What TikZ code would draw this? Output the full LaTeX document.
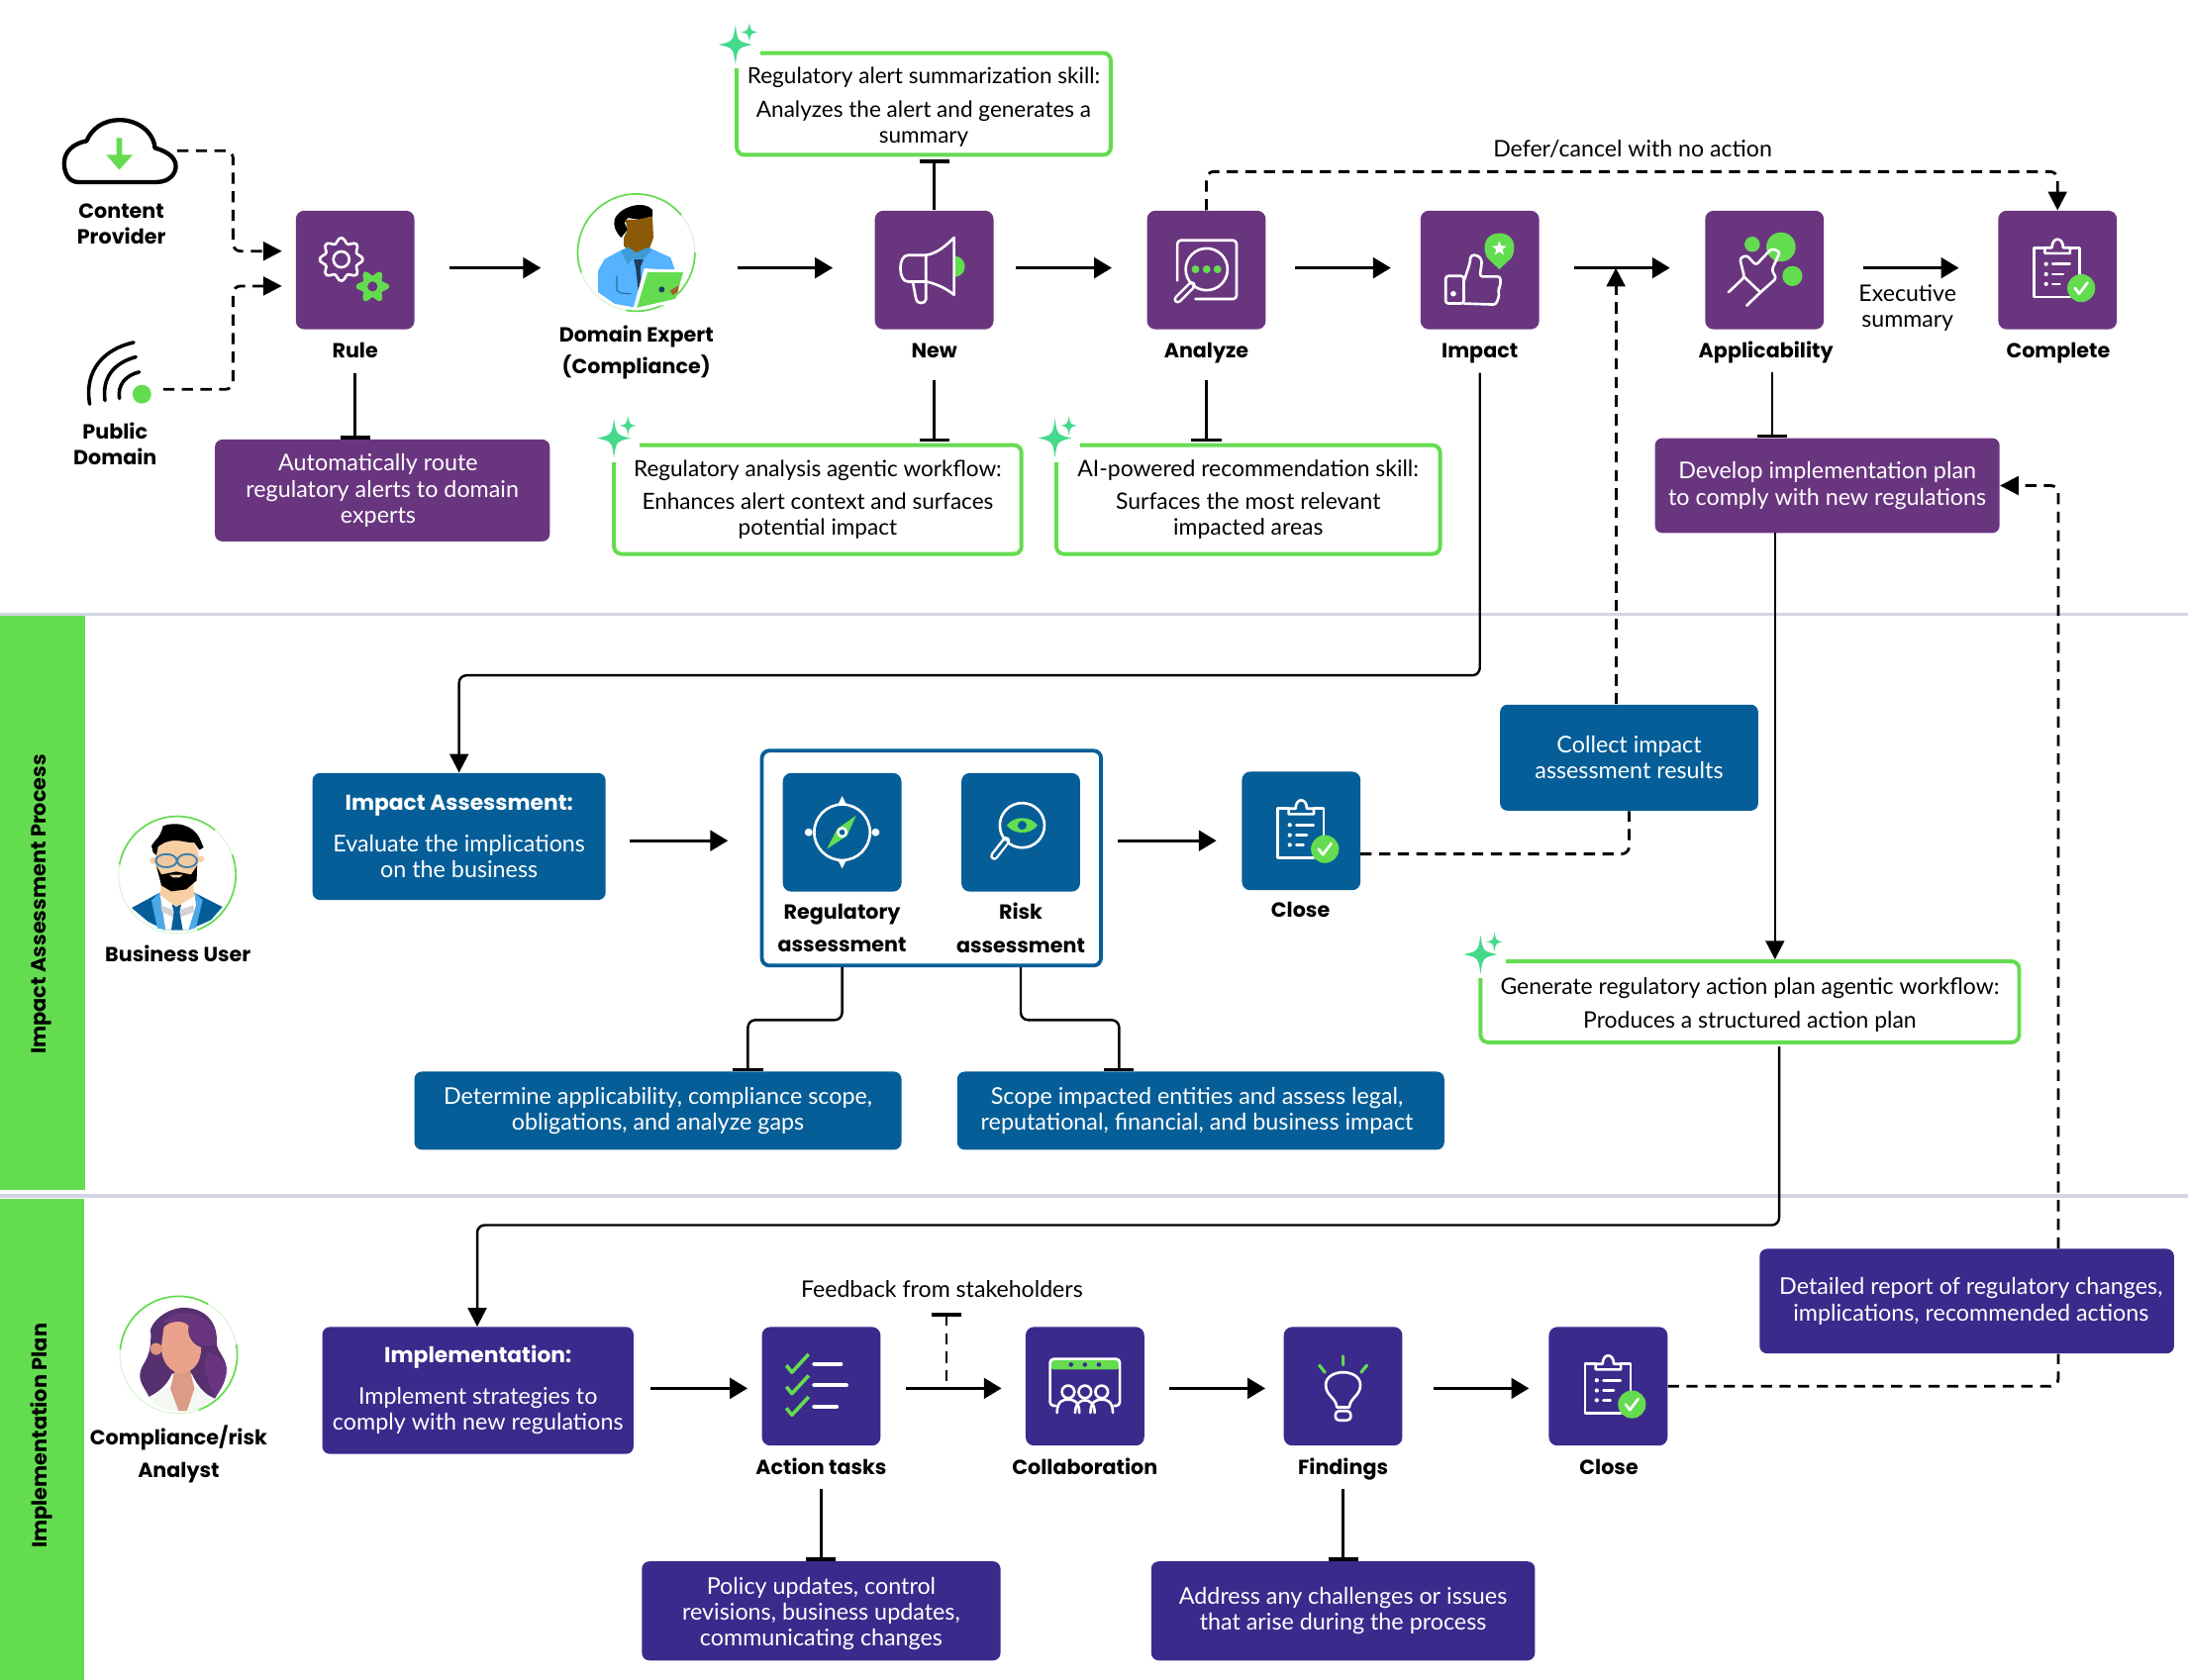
\documentclass[tikz,border=0pt]{standalone}
\usepackage{fontspec}
\setmainfont{Lato}
\newfontfamily\labfont{Poppins}
\usetikzlibrary{arrows.meta}
\definecolor{plum}{HTML}{6A357F}
\definecolor{seablue}{HTML}{055E98}
\definecolor{indigoo}{HTML}{3C298C}
\definecolor{lime}{HTML}{64DC50}
\definecolor{sepline}{HTML}{D3D6E2}
\definecolor{spark}{HTML}{45D98C}
\definecolor{shirtb}{HTML}{55B3FF}
\definecolor{skinb}{HTML}{8B5A08}
\definecolor{collarb}{HTML}{3D9BD6}
\definecolor{tiedk}{HTML}{1C3F5E}
\definecolor{pocketb}{HTML}{2E6FA3}
\definecolor{thumbb}{HTML}{A0622A}
\definecolor{lapelc}{HTML}{4CA9E6}
\definecolor{greyc}{HTML}{D2D2D2}
\definecolor{skina}{HTML}{F7CFA3}
\definecolor{lensrim}{HTML}{3F7FAB}
\definecolor{lensin}{HTML}{EFC9A0}
\definecolor{blouse}{HTML}{F5F7F4}
\definecolor{hairdk}{HTML}{57306F}
\definecolor{neckc}{HTML}{DB9B87}
\definecolor{facec}{HTML}{EBA28C}
\definecolor{earc}{HTML}{DD9580}
\tikzset{
  wh/.style 2 args={minimum width=#1*0.75pt,minimum height=#2*0.75pt},
  gap/.style 2 args={shorten <=#1*0.75pt,shorten >=#2*0.75pt}
}
\newcommand{\sparkle}[1]{
\begin{scope}[shift={(#1)}]
\fill [white] (-2,-2) rectangle (18,10);
\fill [white] (-4,0) rectangle (4,17);
\fill [spark] (0,-14) .. controls (1.6,-2.4) .. (12,0) .. controls (1.6,2.4) .. (0,14) .. controls (-1.6,2.4) .. (-12,0) .. controls (-1.6,-2.4) .. (0,-14);
\fill [spark] (10,-16) .. controls (11,-10) .. (16,-9) .. controls (11,-8) .. (10,-2) .. controls (9,-8) .. (4,-9) .. controls (9,-10) .. (10,-16);
\end{scope}
}
\newcommand{\clipicon}[1]{
\begin{scope}[shift={(#1)}]
\draw [ln] (-9,-16) -- (-16.7,-16) -- (-16.7,19.4) -- (9,19.4);
\draw [ln] (9,-16) -- (16,-16) -- (16,6);
\draw [ln] (-9,-12) -- (-9,-16) -- (-4,-16) .. controls (-4,-24) and (4,-24) .. (4,-16) -- (9,-16) -- (9,-12) -- cycle;
\fill [white] (-8.2,-4.3) circle (1.5) (-8.2,3) circle (1.5) (-8.2,10) circle (1.5);
\draw [ln] (-3.5,-4.3) -- (8.8,-4.3) (-3.5,3) -- (4,3) (-3.5,10) -- (1.6,10);
\fill [lime] (17,13) circle (10);
\draw [ln] (12.5,13) -- (15.5,17) -- (21.5,9);
\end{scope}
}
\begin{document}
\begin{tikzpicture}[x=0.75pt,y=-0.75pt]
\tikzstyle{every node}+=[inner sep=0pt]
\tikzstyle{sq}=[rectangle,rounded corners=4.5pt,wh={85}{85}]
\tikzstyle{lab}=[font=\labfont\bfseries\fontsize{11}{14.25}\selectfont,align=center,text=black]
\tikzstyle{labone}=[lab,anchor=base]
\tikzstyle{txt}=[font=\fontsize{12.3}{13.9}\selectfont,align=center,text=black]
\tikzstyle{box}=[rectangle,rounded corners=4pt,align=center,text=white,font=\fontsize{12.4}{14}\selectfont]
\tikzstyle{skill}=[rectangle,rounded corners=4pt,align=center,draw=lime,line width=2.1pt,fill=white,font=\fontsize{12.2}{13.9}\selectfont]
\tikzstyle{flow}=[black,line width=1.6pt,-{Triangle[length=9.5pt,width=11pt]}]
\tikzstyle{link}=[black,line width=1.3pt,rounded corners=4pt,-{Triangle[length=10pt,width=10pt]}]
\tikzstyle{tee}=[black,line width=1.3pt,rounded corners=4pt,-{Bar[width=16pt,line width=1.9pt]}]
\tikzstyle{dashline}=[black,line width=1.5pt,rounded corners=4pt,dash pattern=on 6pt off 4pt,-{Triangle[length=10pt,width=10pt]}]
\tikzstyle{ln}=[white,line width=1.4pt,line cap=round,line join=round]
\tikzstyle{ring}=[lime,line width=0.9pt]
\useasboundingbox (0,0) rectangle (1568,1204);
\fill [white] (0,0) rectangle (1568,1204);
\fill [lime] (0,441) rectangle (61,853);
\fill [lime] (0,859) rectangle (60,1204);
\fill [sepline] (0,439) rectangle (1568,441.5);
\fill [sepline] (0,855.5) rectangle (1568,858.5);
\draw (30,648) node [rotate=90,font=\labfont\bfseries\fontsize{11.1}{12}\selectfont] (bandimpact) {Impact Assessment Process};
\draw (30,1029) node [rotate=90,font=\labfont\bfseries\fontsize{11.1}{12}\selectfont] (bandplan) {Implementation Plan};
\coordinate (rowa) at (0,192);
\coordinate (rowb) at (0,602.5);
\coordinate (rowc) at (0,995);
\draw (254.5,193.5) node [sq,fill=plum] (rule) {};
\draw (669.5,193.5) node [sq,fill=plum] (new) {};
\draw (864.5,193.5) node [sq,fill=plum] (analyze) {};
\draw (1060.5,193.5) node [sq,fill=plum] (impact) {};
\draw (1264.5,193.5) node [sq,fill=plum] (appl) {};
\draw (1474.5,193.5) node [sq,fill=plum] (complete) {};
\draw (254.5,256.5) node [labone] (rulelab) {Rule};
\draw (669.5,256.5) node [labone] (newlab) {New};
\draw (864.5,256.5) node [labone] (analyzelab) {Analyze};
\draw (1060.5,256.5) node [labone] (impactlab) {Impact};
\draw (1265.5,256.5) node [labone] (appllab) {Applicability};
\draw (1475,256.5) node [labone] (completelab) {Complete};
\draw (87,160.5) node [lab] (contentlab) {Content\\Provider};
\draw (82.5,318) node [lab] (publiclab) {Public\\Domain};
\draw (456,252.5) node [lab] (domainlab) {Domain Expert\\[3pt](Compliance)};
\draw (456,181) node [circle,minimum size=63pt,draw=lime!25,line width=0.6pt] (domain) {};
\draw (274,351.5) node [box,fill=plum,wh={240}{73}] (rulebox) {Automatically route\hspace*{4.5pt}\\regulatory alerts to domain\hspace*{4.5pt}\\experts\hspace*{4.5pt}};
\draw (662,74.5) node [skill,wh={268}{73},font=\fontsize{12}{13.9}\selectfont] (sumskill) {\rule{0pt}{12pt}Regulatory alert summarization skill:\\[4pt]Analyzes the alert and generates a\\summary};
\draw (586,358) node [skill,wh={292}{78},font=\fontsize{12}{13.9}\selectfont] (workflow) {Regulatory analysis agentic workflow:\\[4pt]Enhances alert context and surfaces\\potential impact};
\draw (894.5,358) node [skill,wh={275}{78}] (recoskill) {AI-powered recommendation skill:\\[4pt]Surfaces the most relevant\\impacted areas};
\draw (1309.5,348) node [box,fill=plum,wh={247}{68}] (devbox) {Develop implementation plan\\to comply with new regulations};
\draw (1254,718) node [skill,wh={386}{58}] (genbox) {\rule{0pt}{12pt}Generate regulatory action plan agentic workflow:\\[4pt]Produces a structured action plan};
\draw (329,599.5) node [box,fill=seablue,wh={210}{91}] (iabox) {{\labfont\bfseries\fontsize{11.6}{14}\selectfont Impact Assessment:}\\[8.5pt]Evaluate the implications\\on the business};
\draw (667.5,615) node [rectangle,rounded corners=4pt,draw=seablue,line width=2pt,wh={243}{154}] (frame) {};
\draw (603.5,596.5) node [sq,fill=seablue] (regsq) {};
\draw (731.5,596.5) node [sq,fill=seablue] (risksq) {};
\draw (603.5,665) node [lab] (reglab) {Regulatory\\[3.5pt]assessment};
\draw (731.5,665) node [lab] (risklab) {Risk\\[3.5pt]assessment};
\draw (932.5,595.5) node [sq,fill=seablue] (iaclose) {};
\draw (932,657.5) node [labone] (iacloselab) {Close};
\draw (1167.5,543) node [box,fill=seablue,wh={185}{76}] (collect) {Collect impact\\assessment results};
\draw (471.5,796) node [box,fill=seablue,wh={349}{56}] (detbox) {Determine applicability, compliance scope,\\obligations, and analyze gaps};
\draw (860.5,796) node [box,fill=seablue,wh={349}{56}] (scopebox) {Scope impacted entities and assess legal,\hspace*{4pt}\\reputational, financial, and business impact\hspace*{4pt}};
\draw (127,627) node [circle,minimum size=63pt,draw=lime!25,line width=0.6pt] (bizuser) {};
\draw (127.5,689) node [labone] (bizlab) {Business User};
\draw (128,971) node [circle,minimum size=63pt,draw=lime!25,line width=0.6pt] (analyst) {};
\draw (128,1042) node [lab] (analystlab) {Compliance/risk\\[3.5pt]Analyst};
\draw (342.5,996.5) node [box,fill=indigoo,wh={223}{91}] (implbox) {{\labfont\bfseries\fontsize{11.6}{14}\selectfont Implementation:}\\[8.5pt]Implement strategies to\\comply with new regulations\rule[-3pt]{0pt}{3pt}};
\draw (588.5,993.5) node [sq,fill=indigoo] (action) {};
\draw (777.5,993.5) node [sq,fill=indigoo] (collab) {};
\draw (962.5,993.5) node [sq,fill=indigoo] (findings) {};
\draw (1152.5,993.5) node [sq,fill=indigoo] (plclose) {};
\draw (588.5,1056.5) node [labone] (actionlab) {Action tasks};
\draw (777.5,1056.5) node [labone] (collablab) {Collaboration};
\draw (962.5,1056.5) node [labone] (findingslab) {Findings};
\draw (1153,1056.5) node [labone] (plcloselab) {Close};
\draw (588.5,1154.5) node [box,fill=indigoo,wh={257}{71}] (policy) {\rule{0pt}{12pt}Policy updates, control\\revisions, business updates,\\communicating changes};
\draw (962.5,1154.5) node [box,fill=indigoo,wh={275}{71}] (address) {Address any challenges or issues\\that arise during the process};
\draw (1409.5,932.5) node [box,fill=indigoo,wh={297}{75}] (detail) {\hspace*{4.5pt}Detailed report of regulatory changes,\\\hspace*{4.5pt}implications, recommended actions};
\draw (1170,107) node [txt] (defer) {Defer/cancel with no action};
\draw (1367,220.5) node [txt] (execsum) {Executive\\summary};
\draw (675,924) node [txt] (feedback) {Feedback from stakeholders};
\coordinate (cloudout) at (127,108);
\coordinate (wifiout) at (117,279);
\coordinate (busa) at (167,180);
\coordinate (busb) at (167,205);
\coordinate (ruleina) at (202,180);
\coordinate (ruleinb) at (202,205);
\coordinate (deferturn) at (1170,123);
\coordinate (applout) at (1270,236);
\coordinate (devout) at (1272,382);
\coordinate (genout) at (1275,748);
\coordinate (implturn) at (342,878);
\coordinate (iaturn) at (329,484);
\coordinate (collin) at (1158,192);
\coordinate (closeout) at (975,612);
\coordinate (deta) at (536,731);
\coordinate (scopea) at (802,731);
\coordinate (rightbus) at (1475,349);
\coordinate (fbtop) at (678,941);
\coordinate (fbbot) at (678,990);
\draw [dashline] (cloudout) -| (busa) -- (ruleina);
\draw [dashline] (wifiout) -| (busb) -- (ruleinb);
\draw [flow,gap={25}{26}] (rule.east |- rowa) -- (domain.west |- rowa);
\draw [flow,gap={30}{30}] (domain.east |- rowa) -- (new.west |- rowa);
\draw [flow,gap={16}{25}] (new.east |- rowa) -- (analyze.west |- rowa);
\draw [flow,gap={21}{21}] (analyze.east |- rowa) -- (impact.west |- rowa);
\draw [flow,gap={25}{25}] (impact.east |- rowa) -- (appl.west |- rowa);
\draw [flow,gap={28}{28}] (appl.east |- rowa) -- (complete.west |- rowa);
\draw [flow,gap={17}{23}] (iabox.east |- rowb) -- (frame.west |- rowb);
\draw [flow,gap={11}{18}] (frame.east |- rowb) -- (iaclose.west |- rowb);
\draw [flow,gap={12}{10}] (implbox.east |- rowc) -- (action.west |- rowc);
\draw [flow,gap={18}{17}] (action.east |- rowc) -- (collab.west |- rowc);
\draw [flow,gap={18}{13}] (collab.east |- rowc) -- (findings.west |- rowc);
\draw [flow,gap={22}{14}] (findings.east |- rowc) -- (plclose.west |- rowc);
\draw [tee,gap={31}{0}] (rule.south) -- (rule.south |- rulebox.north);
\draw [tee,gap={0}{2}] (new.north) -- (new.north |- sumskill.south);
\draw [tee,gap={36}{1}] (new.south) -- (new.south |- workflow.north);
\draw [tee,gap={36}{1}] (analyze.south) -- (analyze.south |- recoskill.north);
\draw [tee,gap={31}{0}] (applout) -- (applout |- devbox.north);
\draw [tee,gap={31}{0}] (action.south) -- (action.south |- policy.north);
\draw [tee,gap={31}{0}] (findings.south) -- (findings.south |- address.north);
\draw [tee] (regsq.south |- frame.south) |- (deta) -- (deta |- detbox.north);
\draw [tee] (risksq.south |- frame.south) |- (scopea) -- (scopea |- scopebox.north);
\draw [link,gap={31}{0}] (impact.south) |- (iaturn) -- (iaturn |- iabox.north);
\draw [link] (devout) -- (devout |- genbox.north);
\draw [link,gap={2}{0}] (genout) |- (implturn) -- (implturn |- implbox.north);
\draw [dashline] (analyze.north) |- (deferturn) -| (complete.north);
\draw [dashline] (collin |- collect.north) -- (collin);
\draw [dashline,-] (closeout) -| (collect.south);
\draw [dashline,-] (plclose.east) -| (rightbus |- detail.south);
\draw [dashline] (rightbus |- detail.north) |- (devbox.east);
\draw [black,line width=1.1pt,dash pattern=on 6pt off 4pt,-{Bar[width=16pt,line width=1.9pt]}] (fbbot) -- (fbtop);
\sparkle{527,32}
\sparkle{440,314}
\sparkle{756,314}
\sparkle{1061,684}
\draw [black,line width=2.3pt,line join=round] (56,130.5) -- (112,130.5) .. controls (122,130.5) and (126,124) .. (126,119) .. controls (126,112) and (118,108) .. (111,106) .. controls (110,94) and (98,86) .. (86,86) .. controls (74,86) and (66,92) .. (62,101) .. controls (52,103) and (46,109) .. (46,117) .. controls (46,125) and (50,130.5) .. (56,130.5) -- cycle;
\fill [lime] (83.5,98.8) -- (87.5,98.8) -- (87.5,111) -- (95.1,111) -- (85.5,121.7) -- (76.2,111) -- (83.5,111) -- cycle;
\draw [black,line width=1.9pt,line cap=round] (64.3,289.6) .. controls (60,265) and (75,250) .. (95.8,245.4);
\draw [black,line width=1.9pt,line cap=round] (75.2,287) .. controls (73,270) and (82,260) .. (97.4,255.8);
\draw [black,line width=1.9pt,line cap=round] (85.6,285.6) .. controls (84,276) and (90,269) .. (99.8,266.6);
\fill [lime] (101.7,282.5) circle (6.7);
\begin{scope}[shift={(rule.center)}]
\draw [ln] [shift={(-9.9,-7.6)}] plot [smooth cycle,samples=49,domain=0:352.5] (\x:{13.6+1.9*cos(8*\x)});
\draw [ln] (-9.9,-7.6) circle (5.7);
\fill [lime,even odd rule] [shift={(12.5,11.8)}] plot [smooth cycle,samples=33,domain=0:348.75] (\x:{9.8+2.2*cos(6*\x)}) (0,0) circle (3.7);
\end{scope}
\begin{scope}[shift={(new.center)}]
\fill [lime] (14.5,-10) arc (-90:90:7.5) -- cycle;
\draw [ln] (-5.9,-10.6) .. controls (2,-12) and (8,-17) .. (14.2,-23.2) -- (14.2,17.7) .. controls (8,13) and (2,10) .. (-5.9,8.3) -- cycle;
\draw [ln] (-5.9,-10.6) -- (-18.9,-10.6) .. controls (-26,-10.6) and (-26,8.3) .. (-18.9,8.3) -- (-5.9,8.3);
\draw [ln] (-15.4,8.3) -- (-13,21) .. controls (-12.5,24.5) and (-6,24.5) .. (-5.9,21) -- (-5.9,8.3);
\end{scope}
\begin{scope}[shift={(analyze.center)}]
\draw [ln,rounded corners=2pt] (-20.8,7.6) -- (-20.8,-21.3) -- (21.7,-21.3) -- (21.7,20.8) -- (-7.8,20.8);
\fill [plum] (0.2,-0.5) circle (15);
\draw [ln] (0.2,-0.5) circle (15);
\draw [white,line width=4.4pt,line cap=round] (-10.5,11) -- (-20.5,21);
\draw [plum,line width=1.8pt,line cap=round] (-11,11.5) -- (-20.5,21);
\fill [lime] (-7.8,-0.5) circle (2.8) (0.2,-0.5) circle (2.8) (8,-0.5) circle (2.8);
\end{scope}
\begin{scope}[shift={(impact.center)}]
\draw [ln,rounded corners=1.5pt] (-11.5,4.3) -- (-24.5,4.3) -- (-24.5,24) -- (-11.5,24) -- cycle;
\draw [ln,rounded corners=1.5pt] (-11.5,8.3) -- (-7.2,-4.7) -- (-6.5,-10.6) -- (-1.6,-10.6) -- (1.6,-7) -- (0,4.7) -- (14.7,4.7) -- (14.7,11.8) -- (13,14) -- (14,18) -- (11.5,24.8) -- (-11.5,24);
\fill [white] (-19,17) circle (2);
\fill [lime] (14,-0.5) -- (5,-9) .. controls (0,-22) and (8,-26.4) .. (14,-26.4) .. controls (20,-26.4) and (28,-22) .. (23,-9) -- cycle;
\end{scope}
\begin{scope}[shift={(impact.center)},shift={(14,-15.4)}]
\fill [white] (0,-5.5) -- (1.35,-1.9) -- (5.2,-1.7) -- (2.2,0.7) -- (3.2,4.4) -- (0,2.3) -- (-3.2,4.4) -- (-2.2,0.7) -- (-5.2,-1.7) -- (-1.35,-1.9) -- cycle;
\end{scope}
\begin{scope}[shift={(appl.center)}]
\fill [lime] (11.8,-16.5) circle (10.5) (-8.8,-18.4) circle (5.5) (20,4.3) circle (7.2);
\draw [ln,rounded corners=1.5pt] (-25.9,16) -- (-14.4,5.2) -- (-17.7,-8.3) -- (-12.8,-10.6) -- (-6.2,-3.5) -- (5.2,-15.4) -- (11.1,-13) -- (5.2,0) -- (8.5,5.9) -- (-2.9,16) -- (-12.8,25.5);
\draw [ln] (-14.4,5.2) -- (-2.9,16);
\end{scope}
\clipicon{complete.center}
\clipicon{iaclose.center}
\clipicon{plclose.center}
\begin{scope}[shift={(regsq.center)}]
\draw [ln] (0,0) circle (20);
\fill [white] (0,-26) -- (3,-20) -- (-3,-20) -- cycle (0,26) -- (3,20) -- (-3,20) -- cycle (-24,0) circle (2.8) (24,0) circle (2.8);
\fill [lime] (10,-12) -- (3.5,2.5) -- (-11,12) -- (-3.5,-2.5) -- cycle;
\fill [white] (0,0) circle (4);
\fill [seablue] (0,0) circle (2);
\end{scope}
\begin{scope}[shift={(risksq.center)}]
\draw [ln] (1,-5) circle (16);
\fill [lime] (-10,-5) .. controls (-5,-12) and (7,-12) .. (12,-5) .. controls (7,2) and (-5,2) .. (-10,-5);
\fill [seablue] (1,-5) circle (3.2);
\draw [white,line width=4.4pt,line cap=round] (-10.5,6) -- (-19,17);
\draw [seablue,line width=1.8pt,line cap=round] (-11,7) -- (-19,17);
\end{scope}
\begin{scope}[shift={(action.center)}]
\foreach \yy in {-16,-0.7,14.6} {
\draw [lime,line width=1.9pt,line join=round] (-25,{\yy+1}) -- (-21,{\yy+6}) -- (-9,{\yy-7});
}
\draw [white,line width=2.3pt,line cap=round] (-5,-16) -- (14,-16) (-5,-0.7) -- (18,-0.7) (-5,14.6) -- (11,14.6);
\end{scope}
\begin{scope}[shift={(collab.center)}]
\fill [lime,rounded corners=2pt] (-25,-12) -- (-25,-19.6) -- (25,-19.6) -- (25,-12) -- cycle;
\fill [indigoo] (-10,-15.5) circle (1.6) (0,-15.5) circle (1.6) (10,-15.5) circle (1.6);
\draw [ln,rounded corners=2pt] (-21,14) -- (-25,14) -- (-25,-19.6) -- (25,-19.6) -- (25,14) -- (21,14);
\draw [ln,fill=indigoo] (-12,4) circle (4.5) (12,4) circle (4.5);
\draw [ln] (-20,19) .. controls (-20,10) and (-15,9.5) .. (-12,9.5) .. controls (-9,9.5) and (-4,10) .. (-4,19);
\draw [ln] (20,19) .. controls (20,10) and (15,9.5) .. (12,9.5) .. controls (9,9.5) and (4,10) .. (4,19);
\draw [ln,fill=indigoo] (0,4) circle (4.5);
\draw [ln] (-7,19) .. controls (-7,12) and (-3,10) .. (0,10) .. controls (3,10) and (7,12) .. (7,19);
\end{scope}
\begin{scope}[shift={(findings.center)}]
\draw [ln] (-4.5,15) .. controls (-5,8) and (-12.4,7) .. (-12.4,-1) .. controls (-12.4,-7) and (-6,-10) .. (0,-10) .. controls (6,-10) and (12.4,-7) .. (12.4,-1) .. controls (12.4,7) and (5,8) .. (4.5,15) -- cycle;
\draw [ln,rounded corners=2pt] (-5.5,17.7) rectangle (5.5,24.4);
\draw [lime,line width=1.7pt,line cap=round] (0,-21.5) -- (0,-15.4) (-17,-15) -- (-13,-10) (17,-15) -- (13,-10);
\end{scope}
\begin{scope}[shift={(domain.center)}]
\draw [ring] (-40:42) arc [start angle=-40,end angle=-200,radius=42];
\draw [ring] (100:42) arc [start angle=100,end angle=0,radius=42];
\end{scope}
\begin{scope}[shift={(domain.center)},scale=0.2364,shift={(-216,-195)}]
\fill [black] (150,95) .. controls (165,55) and (240,35) .. (265,65) -- (265,85) -- (225,95) -- (190,90) -- (180,105) -- (190,125) -- (170,150) .. controls (155,135) and (145,115) .. (150,95);
\fill [shirtb] (100,250) -- (120,215) -- (175,185) -- (265,185) -- (320,210) -- (332,245) -- (245,250) -- (215,362) -- (150,350) -- (100,315) -- cycle;
\fill [skinb] (182,95) -- (225,95) -- (265,85) -- (268,150) -- (255,185) -- (240,195) -- (205,200) -- (178,175) -- (178,150) -- (190,125) -- cycle;
\fill [collarb] (170,190) -- (190,178) -- (215,195) -- (250,180) -- (265,185) -- (240,212) -- (205,212) -- (190,232) -- cycle;
\fill [tiedk] (208,215) -- (238,215) -- (228,240) -- (232,290) -- (222,312) -- (214,240) -- cycle;
\draw [pocketb,line width=0.6pt] (157,265) -- (157,310) -- (170,318) -- (200,320);
\fill [white] (240,243) -- (362,250) -- (330,348) -- (205,370) -- cycle;
\fill [lime] (250,255) -- (358,255) -- (335,335) -- (218,362) -- cycle;
\fill [tiedk] (293,307) circle (9);
\fill [thumbb] (318,310) -- (345,295) -- (342,315) -- (326,324) -- cycle;
\end{scope}
\begin{scope}[shift={(bizuser.center)}]
\draw [ring] (-50:42) arc [start angle=-50,end angle=-170,radius=42];
\draw [ring] (70:42) arc [start angle=70,end angle=-20,radius=42];
\end{scope}
\begin{scope}[shift={(bizuser.center)},scale=0.2364,shift={(-238,-208)}]
\fill [seablue] (100,308) -- (185,262) -- (290,262) -- (375,305) -- (340,345) -- (272,375) -- (200,375) -- (150,350) -- cycle;
\fill [lapelc] (160,285) -- (185,262) -- (205,375) -- (178,370) -- cycle (315,285) -- (292,262) -- (272,375) -- (295,368) -- cycle;
\fill [white] (185,262) -- (290,262) -- (295,300) -- (272,375) -- (203,375) -- cycle;
\fill [greyc] (188,300) -- (235,318) -- (287,300) -- (290,320) -- (252,335) -- (222,335) -- (192,320) -- cycle;
\fill [seablue] (222,298) -- (250,298) -- (245,320) -- (255,375) -- (220,375) -- (228,320) -- cycle;
\fill [skina] (190,220) -- (285,220) -- (290,272) -- (235,305) -- (187,270) -- cycle;
\fill [skina] (237,160) ellipse [x radius=66,y radius=85];
\fill [skina] (165,165) circle (10) (310,160) circle (10);
\fill [black] (175,180) -- (190,207) -- (235,198) -- (280,207) -- (298,180) -- (297,225) -- (265,252) -- (220,258) -- (190,240) -- cycle;
\fill [skina] (215,208) -- (255,208) -- (245,216) -- (225,216) -- cycle;
\fill [black] (160,120) .. controls (170,100) and (185,100) .. (195,60) .. controls (230,45) and (285,55) .. (305,95) -- (318,125) -- (305,132) -- (290,110) .. controls (260,112) and (240,95) .. (200,110) -- (180,122) -- (175,148) -- (165,140) -- cycle;
\draw [lensrim,line width=1pt,fill=lensin] (205,165) ellipse [x radius=32,y radius=20];
\draw [lensrim,line width=1pt,fill=lensin] (268,165) ellipse [x radius=30,y radius=20];
\end{scope}
\begin{scope}[shift={(analyst.center)}]
\draw [ring] (-60:42) arc [start angle=-60,end angle=-175,radius=42];
\draw [ring] (70:42) arc [start angle=70,end angle=-10,radius=42];
\end{scope}
\begin{scope}[shift={(analyst.center)},scale=0.2364,shift={(-240,-208)}]
\fill [blouse] (215,305) -- (145,340) -- (190,370) -- (240,380) -- (290,380) -- (340,345) -- (288,300) -- cycle;
\fill [hairdk] (155,130) .. controls (170,90) and (220,65) .. (255,65) .. controls (320,65) and (360,110) .. (355,170) .. controls (355,200) and (390,220) .. (385,260) .. controls (380,300) and (360,320) .. (350,340) .. controls (320,330) and (295,300) .. (280,265) -- (220,265) .. controls (205,300) and (180,320) .. (150,335) .. controls (140,310) and (115,290) .. (125,255) .. controls (135,225) and (160,215) .. (155,130);
\fill [plum] (190,110) .. controls (220,70) and (320,65) .. (350,140) .. controls (355,170) and (355,180) .. (335,180) .. controls (300,185) and (270,165) .. (270,120) -- cycle;
\fill [plum] (330,200) .. controls (355,210) and (390,230) .. (385,260) .. controls (380,300) and (360,320) .. (350,340) .. controls (340,300) and (300,250) .. (330,200);
\fill [neckc] (228,255) -- (275,255) -- (288,310) -- (265,378) -- (240,378) -- (215,310) -- cycle;
\fill [facec] (195,125) .. controls (210,105) and (255,100) .. (270,120) .. controls (265,155) and (285,178) .. (308,185) .. controls (310,230) and (285,260) .. (250,263) .. controls (215,265) and (185,225) .. (188,180) -- cycle;
\fill [earc] (172,190) circle (18);
\end{scope}
\end{tikzpicture}
\end{document}
